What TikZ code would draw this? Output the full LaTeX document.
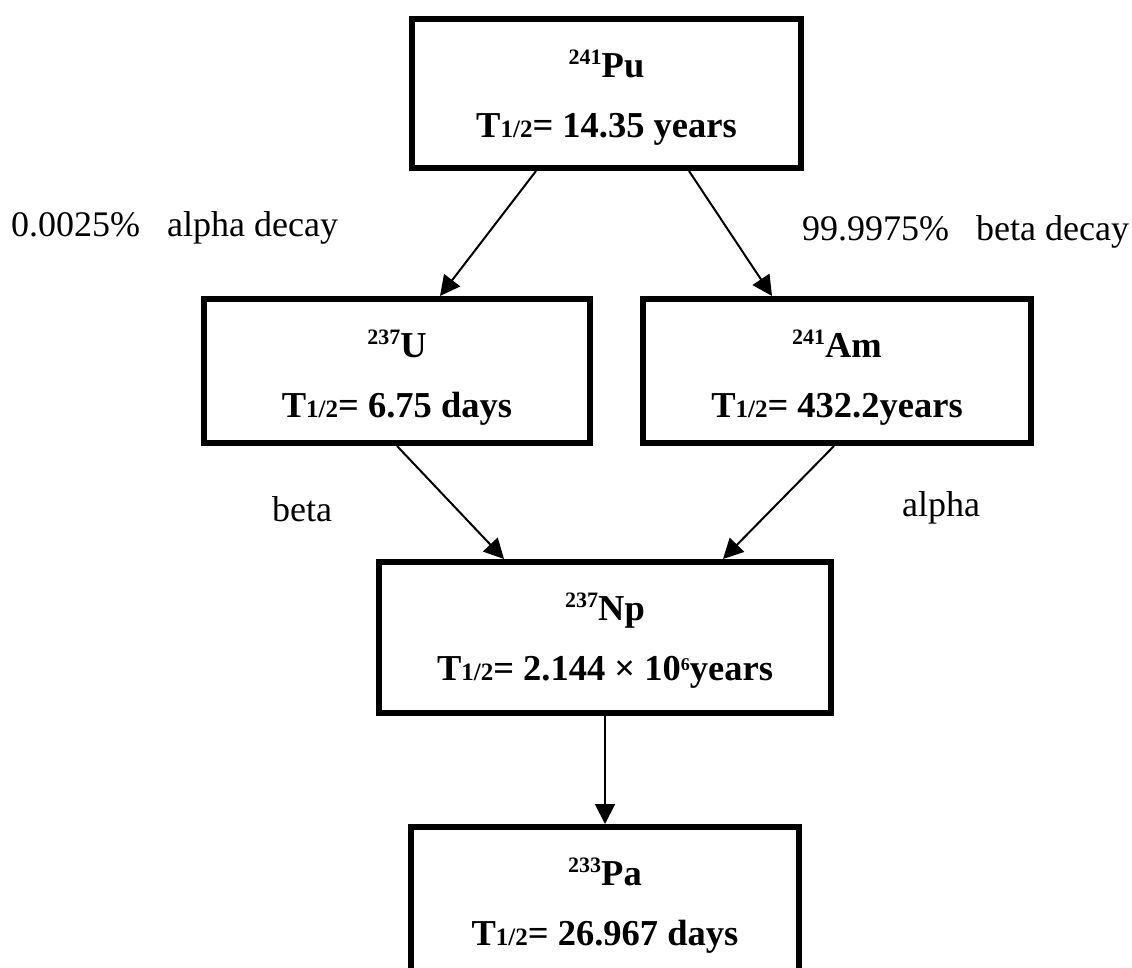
\documentclass[tikz,border=0pt]{standalone}
\usepackage{fontspec}
\setmainfont{Liberation Serif}
\usetikzlibrary{arrows.meta}
\usetikzlibrary{positioning}
\newcommand{\nuc}[2]{\raisebox{12.5pt}{\fontsize{22}{22}\selectfont #1}#2}
\newcommand{\thalf}{T{\fontsize{25}{25}\selectfont 1/2}}
\newcommand{\topstrut}{\rule{0pt}{58pt}}
\newcommand{\botstrut}[1]{\rule[-#1]{0pt}{#1}}

\begin{document}
\begin{tikzpicture}[
  isobox/.style={draw, line width=6pt, inner sep=0pt, outer sep=3pt, align=center,
    font=\bfseries\fontsize{36.5}{60}\selectfont},
  decaylabel/.style={inner sep=0pt, anchor=base west, font=\fontsize{36}{40}\selectfont},
  decayarrow/.style={line width=2pt, -{Triangle[length=20pt,width=20pt]}}]
\useasboundingbox (0,0) rectangle (1132pt,-967pt);
%%%%%%%%%%%%%%%%%%%%%%%%%%%%
%%%%%%%%% Parent %%%%%%%%%%%
%%%%%%%%%%%%%%%%%%%%%%%%%%%%
\node[isobox, minimum width=389pt] (pu241) at (606.5pt,-93.5pt)
  {\topstrut\nuc{241}{Pu}\\\thalf= 14.35 years\botstrut{31pt}};
%%%%%%%%%%%%%%%%%%%%%%%%%%%%
%%%%%%%%% Daughters %%%%%%%%
%%%%%%%%%%%%%%%%%%%%%%%%%%%%
\node[isobox, minimum width=386pt, below=125pt of pu241, xshift=-209.5pt] (u237)
  {\topstrut\nuc{237}{U}\\\thalf= 6.75 days\botstrut{26pt}};
\node[isobox, minimum width=388pt, right=47pt of u237] (am241)
  {\topstrut\nuc{241}{Am}\\\thalf= 432.2years\botstrut{26pt}};
\node[decaylabel] (alphadecay) at (11pt,-236pt) {0.0025\%\ \ \ alpha decay};
\node[decaylabel] (betadecay) at (802pt,-240pt) {99.9975\%\ \ \ beta decay};
\draw[decayarrow] ([xshift=-70.5pt]pu241.south) -- ([xshift=43pt]u237.north);
\draw[decayarrow] ([xshift=82.5pt]pu241.south) -- ([xshift=-65pt]am241.north);
%%%%%%%%%%%%%%%%%%%%%%%%%%%%
%%%%%%%%% Neptunium %%%%%%%%
%%%%%%%%%%%%%%%%%%%%%%%%%%%%
\node[isobox, minimum width=452pt, below=113pt of u237, xshift=208pt] (np237)
  {\topstrut\nuc{237}{Np}\\\thalf= 2.144 \texttimes{} 10\raisebox{10pt}{\fontsize{18}{18}\selectfont 6}years\botstrut{33pt}};
\node[decaylabel] (betalabel) at (272pt,-521pt) {beta};
\node[decaylabel] (alphalabel) at (902pt,-516pt) {alpha};
\draw[decayarrow] (u237.south) -- ([xshift=-101pt]np237.north);
\draw[decayarrow] ([xshift=-3pt]am241.south) -- ([xshift=118pt]np237.north);
%%%%%%%%%%%%%%%%%%%%%%%%%%%%
%%%%%%%%% Protactinium %%%%%
%%%%%%%%%%%%%%%%%%%%%%%%%%%%
\node[isobox, minimum width=388pt, below=108pt of np237] (pa233)
  {\topstrut\nuc{233}{Pa}\\\thalf= 26.967 days\botstrut{31pt}};
\draw[decayarrow] (np237.south) -- (pa233.north);
\end{tikzpicture}
\end{document}
